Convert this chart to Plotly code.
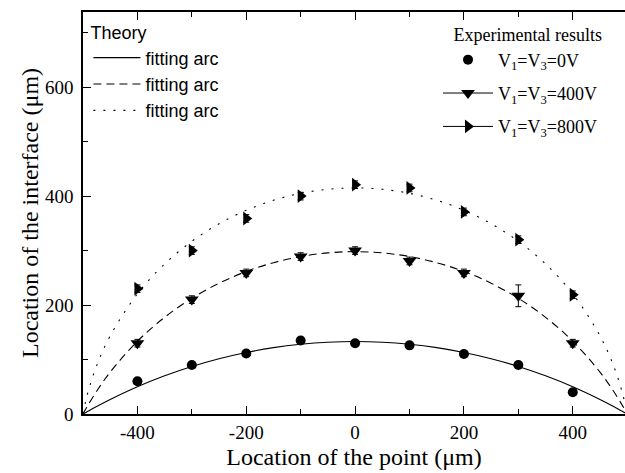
import plotly.graph_objects as go

# Theoretical fitting arcs
arc_x = [-500, -495, -490, -475, -450, -400, -350, -300, -250, -200, -150, -100, -50, 0,
         50, 100, 150, 200, 250, 300, 350, 400, 450, 475, 490, 495, 500]
arc_0V = [0, 2.9, 5.6, 13.9, 26.8, 50.1, 70.2, 87.3, 101.5, 112.9, 121.8, 128.0, 131.8, 133,
          131.8, 128.0, 121.8, 112.9, 101.5, 87.3, 70.2, 50.1, 26.8, 13.9, 5.6, 2.9, 0]
arc_400V = [0, 9.0, 17.7, 41.8, 76.9, 133.5, 177.5, 212.4, 240.1, 261.7, 277.8, 289.1, 295.8, 298,
            295.8, 289.1, 277.8, 261.7, 240.1, 212.4, 177.5, 133.5, 76.9, 41.8, 17.7, 9.0, 0]
arc_800V = [0, 23.6, 43.0, 88.4, 143.5, 220.6, 275.5, 317.1, 349.3, 374.0, 392.4, 405.1, 412.5, 415,
            412.5, 405.1, 392.4, 374.0, 349.3, 317.1, 275.5, 220.6, 143.5, 88.4, 43.0, 23.6, 0]

# Experimental results
pt_x = [-400, -300, -200, -100, 0, 100, 200, 300, 400]
y_0V = [60, 90, 111, 135, 130, 126, 110, 90, 40]
y_400V = [130, 210, 259, 289, 300, 281, 259, 217, 130]
y_800V = [230, 300, 359, 400, 421, 415, 371, 320, 219]
err_400V = [7, 7, 7, 7, 7, 7, 7, 20, 7]
err_800V = [7, 7, 7, 7, 7, 7, 7, 7, 7]

# Tick labels
x_ticks = [-400, -200, 0, 200, 400]
x_ticklabels = ["-400", "-200", "0", "200", "400"]
y_ticks = [0, 200, 400, 600]
y_ticklabels = ["0", "200", "400", "600"]

label_0V = "V<sub>1</sub>=V<sub>3</sub>=0V"
label_400V = "V<sub>1</sub>=V<sub>3</sub>=400V"
label_800V = "V<sub>1</sub>=V<sub>3</sub>=800V"

SERIF = "Liberation Serif, Times New Roman, serif"
SANS = "Liberation Sans, Arial, sans-serif"

fig = go.Figure()

for ys, dash in [(arc_0V, "solid"), (arc_400V, "8px,5px"), (arc_800V, "2px,8px")]:
    fig.add_trace(go.Scatter(
        x=arc_x, y=ys, mode="lines", name="fitting arc",
        line=dict(color="black", width=1.1, dash=dash, shape="spline"),
        legend="legend", hoverinfo="skip"))

# data markers
fig.add_trace(go.Scatter(x=pt_x, y=y_0V, mode="markers", showlegend=False,
                         marker=dict(symbol="circle", size=10, color="black")))
fig.add_trace(go.Scatter(x=pt_x, y=y_400V, mode="markers", showlegend=False,
                         marker=dict(symbol="triangle-down", size=12, color="black"),
                         error_y=dict(type="data", array=err_400V, color="black",
                                      thickness=1, width=3)))
fig.add_trace(go.Scatter(x=pt_x, y=y_800V, mode="markers", showlegend=False,
                         marker=dict(symbol="triangle-right", size=12, color="black"),
                         error_y=dict(type="data", array=err_800V, color="black",
                                      thickness=1, width=3)))

# legend entries for experimental results
fig.add_trace(go.Scatter(x=[None], y=[None], mode="markers", name=label_0V,
                         marker=dict(symbol="circle", size=10, color="black"),
                         legend="legend2", legendgroup="a"))
fig.add_trace(go.Scatter(x=[None], y=[None], mode="lines+markers", name=label_400V,
                         marker=dict(symbol="triangle-down", size=12, color="black"),
                         line=dict(color="black", width=1), legend="legend2", legendgroup="b"))
fig.add_trace(go.Scatter(x=[None], y=[None], mode="lines+markers", name=label_800V,
                         marker=dict(symbol="triangle-right", size=12, color="black"),
                         line=dict(color="black", width=1), legend="legend2", legendgroup="c"))

fig.update_layout(
    width=625, height=473,
    margin=dict(l=83, r=0, t=12, b=59),
    plot_bgcolor="white", paper_bgcolor="white",
    font=dict(family=SERIF, color="black", size=18),
    legend=dict(x=0.01, y=0.99, xanchor="left", yanchor="top",
                title=dict(text="Theory", font=dict(family=SANS, size=18)),
                font=dict(family=SANS, size=18),
                bgcolor="rgba(0,0,0,0)", itemwidth=47, tracegroupgap=0),
    legend2=dict(x=0.655, y=0.985, xanchor="left", yanchor="top",
                 title=dict(text="\u00a0\u00a0\u00a0Experimental results",
                            font=dict(family=SERIF, size=18)),
                 font=dict(family=SERIF, size=18),
                 bgcolor="rgba(0,0,0,0)", itemwidth=50, tracegroupgap=7),
    xaxis=dict(range=[-500, 496], tickvals=x_ticks, ticktext=x_ticklabels,
               ticks="inside", ticklen=8, tickwidth=1, tickcolor="black",
               minor=dict(tickvals=[-300, -100, 100, 300], ticks="inside", ticklen=5,
                          tickcolor="black"),
               showline=True, linecolor="black", linewidth=1.5, mirror="ticks",
               showgrid=False, zeroline=False,
               tickfont=dict(family=SERIF, size=19),
               title=dict(text="Location of the point (μm)",
                          font=dict(family=SERIF, size=24), standoff=7)),
    yaxis=dict(range=[0, 738], tickvals=y_ticks, ticktext=y_ticklabels,
               ticks="inside", ticklen=8, tickwidth=1, tickcolor="black",
               minor=dict(tickvals=[100, 300, 500, 700], ticks="inside", ticklen=5,
                          tickcolor="black"),
               showline=True, linecolor="black", linewidth=1.5, mirror=False,
               showgrid=False, zeroline=False, ticklabelstandoff=4,
               tickfont=dict(family=SERIF, size=19),
               title=dict(text="Location of the interface (μm)",
                          font=dict(family=SERIF, size=24), standoff=0)),
)

fig.write_html("out.html")
